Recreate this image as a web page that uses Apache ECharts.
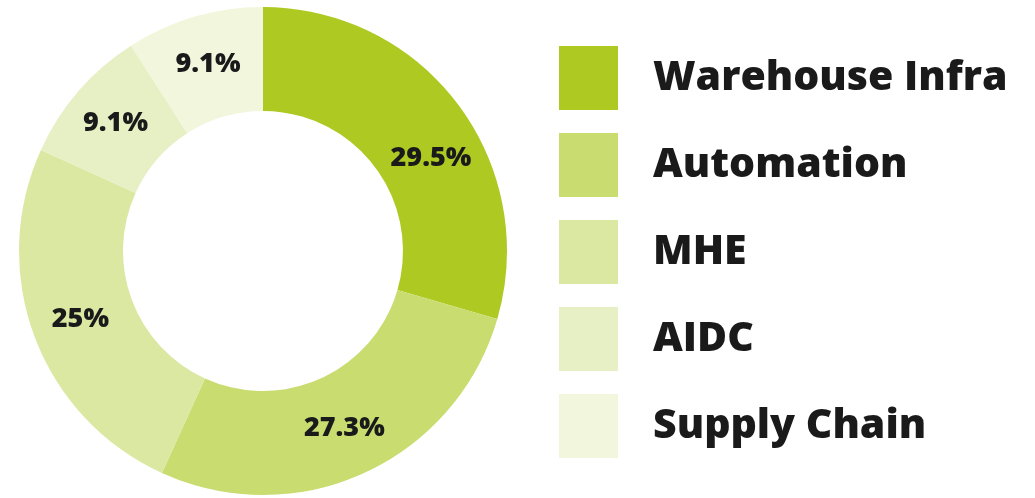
<!DOCTYPE html>
<html>
<head>
<meta charset="utf-8">
<script src="https://cdn.jsdelivr.net/npm/echarts@6/dist/echarts.min.js"></script>
<style>
html,body{margin:0;padding:0;background:#fff;}
#chart{width:1035px;height:498px;}
</style>
</head>
<body>
<div id="chart"></div>
<script>
const categories = ['Warehouse Infra', 'Automation', 'MHE', 'AIDC', 'Supply Chain'];
const values = [29.5, 27.3, 25, 9.1, 9.1];
const colors = ['#adc922', '#c8dc70', '#dbe8a2', '#e7f0c5', '#f1f6dc'];

const chart = echarts.init(document.getElementById('chart'));
chart.setOption({
  animation: false,
  backgroundColor: '#ffffff',
  color: colors,
  legend: {
    orient: 'vertical',
    left: 559,
    top: 46,
    padding: 0,
    itemWidth: 59,
    itemHeight: 64,
    itemGap: 23,
    icon: 'rect',
    selectedMode: false,
    data: categories,
    textStyle: {
      fontFamily: 'Open Sans',
      fontWeight: 800,
      fontSize: 41,
      color: '#1a1a1a',
      padding: [11, 0, 0, 30]
    }
  },
  series: [{
    type: 'pie',
    center: [263, 251],
    radius: [140, 244],
    startAngle: 90,
    clockwise: true,
    avoidLabelOverlap: false,
    silent: true,
    label: {
      show: true,
      position: 'inside',
      formatter: p => p.value + '%',
      fontFamily: 'Open Sans',
      fontWeight: 800,
      fontSize: 27,
      color: '#1a1a1a'
    },
    labelLine: { show: false },
    itemStyle: { borderWidth: 0 },
    data: categories.map((c, i) => ({
      name: c,
      value: values[i],
      label: i === 0 ? { offset: [12, 24] } : undefined
    }))
  }]
});
</script>
</body>
</html>
